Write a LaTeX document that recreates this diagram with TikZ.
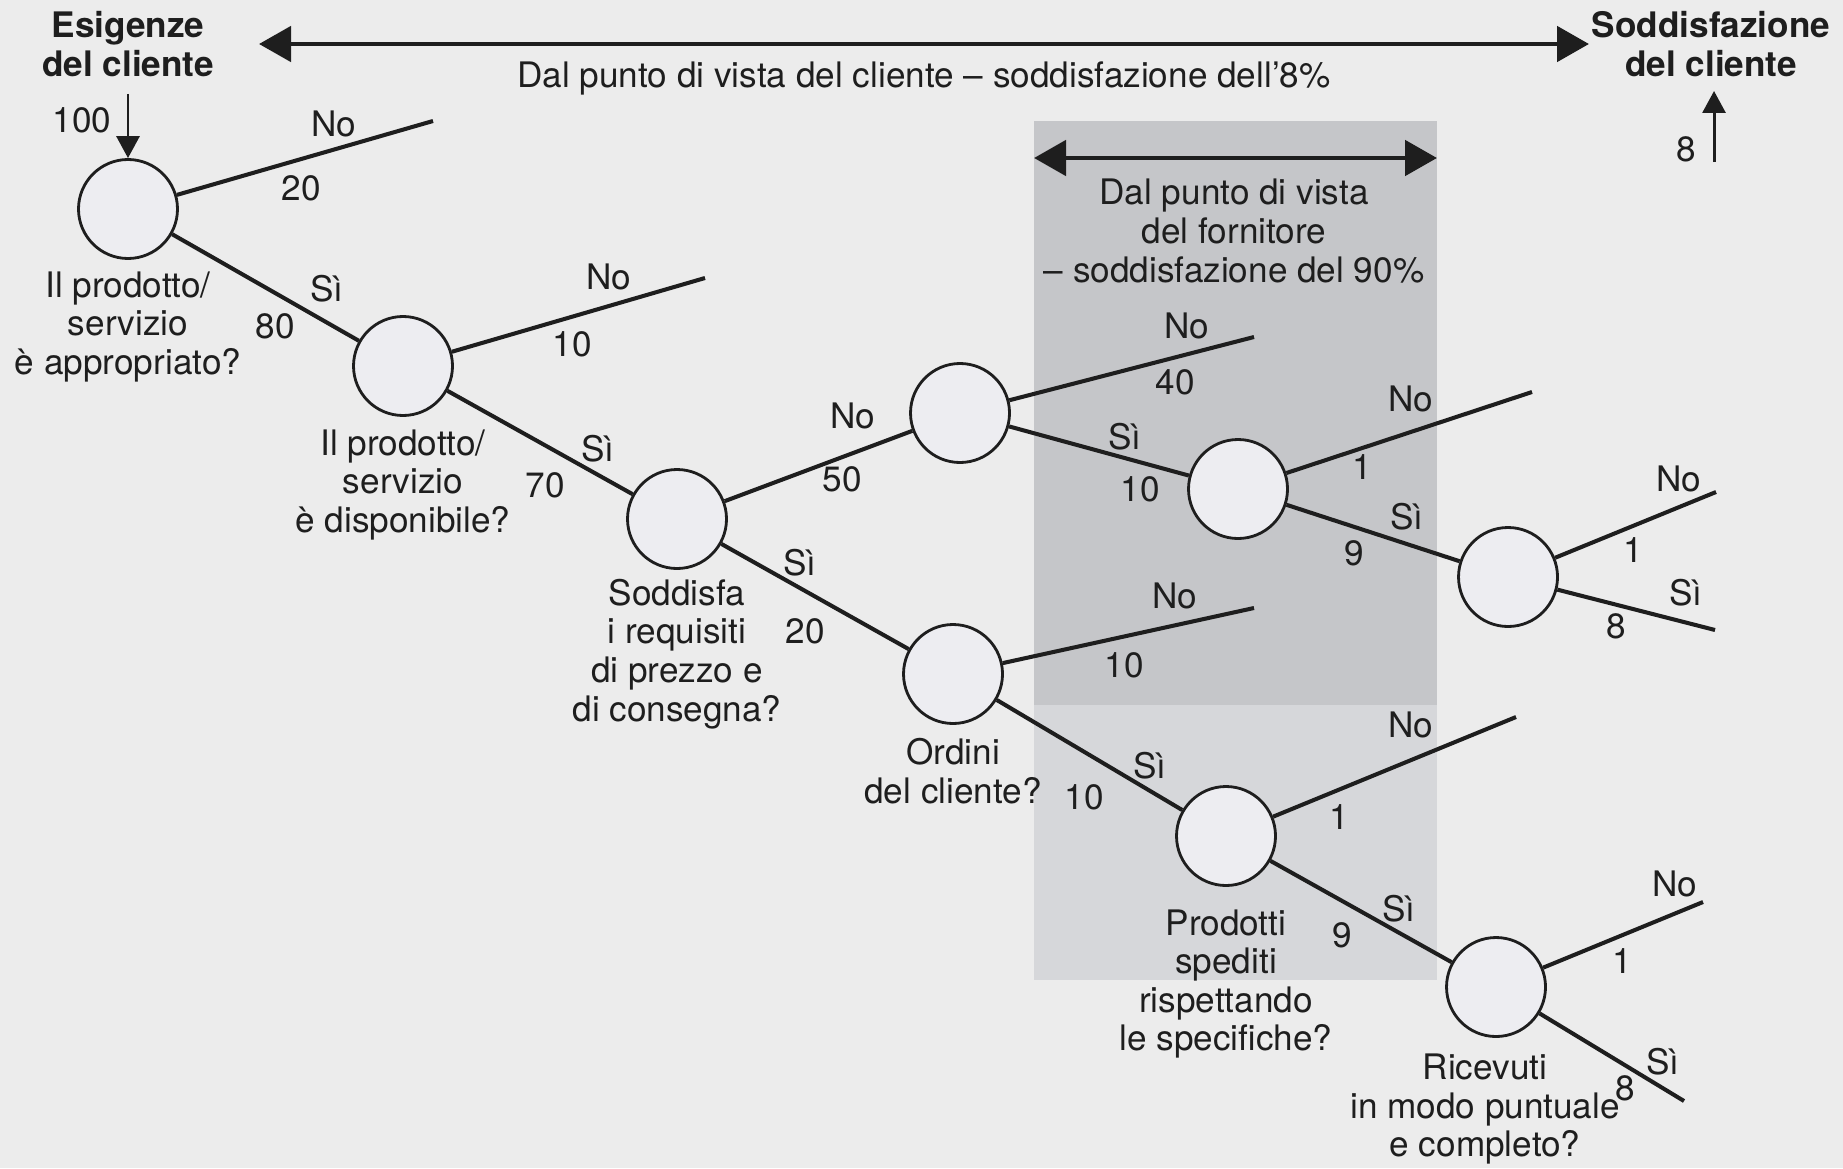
\documentclass[tikz,border=0pt]{standalone}
\usepackage{fontspec}
\setmainfont{TeX Gyre Heros}
\usetikzlibrary{arrows.meta}
\definecolor{bg}{HTML}{ECECEC}
\definecolor{boxdark}{HTML}{C5C6C9}
\definecolor{boxlight}{HTML}{D6D7DA}
\definecolor{disc}{HTML}{EDEDF1}
\definecolor{ink}{HTML}{1E1E1E}
\tikzset{
  dec/.style={circle,draw=ink,fill=disc,line width=0.8pt,minimum size=0.99cm,inner sep=0pt},
  branch/.style={draw=ink,line width=1.15pt},
  lab/.style={text=ink,font=\fontsize{10}{11}\selectfont,inner sep=1pt},
  qtext/.style={lab,align=center},
  title/.style={lab,align=center,font=\fontsize{10}{11}\selectfont\bfseries},
  bigarr/.style={ink,line width=1.4pt,{Triangle[length=3.2mm,width=3.5mm]}-{Triangle[length=3.2mm,width=3.5mm]}},
  smallarr/.style={ink,line width=0.85pt,-{Triangle[length=2.2mm,width=2.3mm]}}
}
\begin{document}
\begin{tikzpicture}
\fill[bg] (0,0) rectangle (18.43,11.68);
\useasboundingbox (0,0) rectangle (18.43,11.68);
\fill[boxdark] (10.34,4.63) rectangle (14.37,10.47);
\fill[boxlight] (10.34,1.88) rectangle (14.37,4.63);
\node[dec] (d1) at (1.28,9.59) {};
\node[dec] (d2) at (4.03,8.02) {};
\node[dec] (d3) at (6.77,6.49) {};
\node[dec] (d4) at (9.60,7.55) {};
\node[dec] (d5) at (9.53,4.94) {};
\node[dec] (d6) at (12.38,6.79) {};
\node[dec] (d7) at (15.08,5.91) {};
\node[dec] (d8) at (12.26,3.32) {};
\node[dec] (d9) at (14.96,1.81) {};
\coordinate (e1) at (4.33,10.47);
\coordinate (e2) at (7.05,8.90);
\coordinate (e4) at (12.54,8.31);
\coordinate (e5) at (12.54,5.60);
\coordinate (e6) at (15.32,7.76);
\coordinate (e7) at (17.16,6.76);
\coordinate (f7) at (17.15,5.38);
\coordinate (e8) at (15.16,4.51);
\coordinate (e9) at (17.03,2.66);
\coordinate (f9) at (16.84,0.67);
\draw[branch] (d1) edge (e1);
\draw[branch] (d1) edge (d2);
\draw[branch] (d2) edge (e2);
\draw[branch] (d2) edge (d3);
\draw[branch] (d3) edge (d4);
\draw[branch] (d3) edge (d5);
\draw[branch] (d4) edge (e4);
\draw[branch] (d4) edge (d6);
\draw[branch] (d6) edge (e6);
\draw[branch] (d6) edge (d7);
\draw[branch] (d7) edge (e7);
\draw[branch] (d7) edge (f7);
\draw[branch] (d5) edge (e5);
\draw[branch] (d5) edge (d8);
\draw[branch] (d8) edge (e8);
\draw[branch] (d8) edge (d9);
\draw[branch] (d9) edge (e9);
\draw[branch] (d9) edge (f9);
% branch labels
\node[lab] (no1) at (3.34,10.44) {No};
\node[lab] (k1) at (3.01,9.80) {20};
\node[lab] (si1) at (3.27,8.79) {Sì};
\node[lab] (m1) at (2.75,8.42) {80};
\node[lab] (no2) at (6.09,8.91) {No};
\node[lab] (k2) at (5.72,8.24) {10};
\node[lab] (si2) at (5.98,7.19) {Sì};
\node[lab] (m2) at (5.45,6.83) {70};
\node[lab] (no3) at (8.53,7.52) {No};
\node[lab] (k3) at (8.42,6.89) {50};
\node[lab] (si3) at (8.00,6.05) {Sì};
\node[lab] (m3) at (8.05,5.37) {20};
\node[lab] (no4) at (11.87,8.42) {No};
\node[lab] (k4) at (11.75,7.86) {40};
\node[lab] (si4) at (11.25,7.31) {Sì};
\node[lab] (m4) at (11.40,6.79) {10};
\node[lab] (no6) at (14.11,7.69) {No};
\node[lab] (k6) at (13.62,7.01) {1};
\node[lab] (si6) at (14.07,6.51) {Sì};
\node[lab] (m6) at (13.54,6.15) {9};
\node[lab] (no7) at (16.79,6.89) {No};
\node[lab] (k7) at (16.33,6.18) {1};
\node[lab] (si7) at (16.86,5.75) {Sì};
\node[lab] (m7) at (16.16,5.42) {8};
\node[lab] (no5) at (11.75,5.72) {No};
\node[lab] (k5) at (11.24,5.03) {10};
\node[lab] (si5) at (11.50,4.02) {Sì};
\node[lab] (m5) at (10.84,3.71) {10};
\node[lab] (no8) at (14.11,4.43) {No};
\node[lab] (k8) at (13.39,3.51) {1};
\node[lab] (si8) at (13.99,2.59) {Sì};
\node[lab] (m8) at (13.42,2.33) {9};
\node[lab] (no9) at (16.75,2.84) {No};
\node[lab] (k9) at (16.22,2.07) {1};
\node[lab] (si9) at (16.63,1.06) {Sì};
\node[lab] (m9) at (16.25,0.80) {8};
% questions
\node[qtext] (q1) at (1.28,8.41) {Il prodotto/\\servizio\\è appropriato?};
\node[qtext] (q2) at (4.03,6.83) {Il prodotto/\\servizio\\è disponibile?};
\node[qtext] (q3) at (6.77,5.14) {Soddisfa\\i requisiti\\di prezzo e\\di consegna?};
\node[qtext] (q5) at (9.53,3.97) {Ordini\\del cliente?};
\node[qtext] (q8) at (12.26,1.84) {Prodotti\\spediti\\rispettando\\le specifiche?};
\node[qtext] (q9) at (14.85,0.59) {Ricevuti\\in modo puntuale\\e completo?};
% top
\node[title] (tl) at (1.28,11.24) {Esigenze\\del cliente};
\node[title] (tr) at (17.11,11.24) {Soddisfazione\\del cliente};
\coordinate (a1) at (2.59,11.24);
\coordinate (a2) at (15.89,11.24);
\draw[bigarr] (a1) -- (a2);
\node[lab] (cv) at (9.24,10.90) {Dal punto di vista del cliente – soddisfazione dell’8\%};
\coordinate (in) at (1.28,10.74);
\draw[smallarr] (in) -- (d1);
\node[lab] (n100) at (0.82,10.48) {100};
\coordinate (o1) at (17.14,10.06);
\coordinate (o2) at (17.14,10.77);
\draw[smallarr] (o1) -- (o2);
\node[lab] (n8) at (16.86,10.19) {8};
\coordinate (b1) at (10.34,10.10);
\coordinate (b2) at (14.37,10.10);
\draw[bigarr] (b1) -- (b2);
\node[qtext] (fv) at (12.34,9.37) {Dal punto di vista\\del fornitore\\– soddisfazione del 90\%};
\end{tikzpicture}
\end{document}
